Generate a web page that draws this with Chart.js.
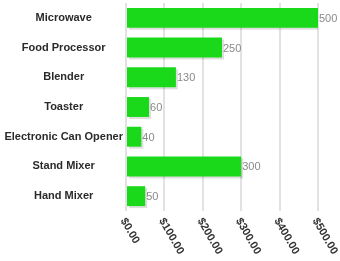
<!DOCTYPE html>
<html>
<head>
<meta charset="utf-8">
<script src="https://cdn.jsdelivr.net/npm/chart.js@4"></script>
<style>
  html, body { margin: 0; padding: 0; background: #fff; }
  #wrap { width: 340px; height: 261px; }
</style>
</head>
<body>
<div id="wrap"><canvas id="canvas"></canvas></div>
<script>
const categories = ['Microwave', 'Food Processor', 'Blender', 'Toaster', 'Electronic Can Opener', 'Stand Mixer', 'Hand Mixer']
const values = [500, 250, 130, 60, 40, 300, 50]
const tickValues = [0, 100, 200, 300, 400, 500]
const tickLabels = ['$0.00', '$100.00', '$200.00', '$300.00', '$400.00', '$500.00']

const font = '"Liberation Sans", Arial, sans-serif'

// bar shadow + value labels at bar ends
const barExtras = {
    id: 'barExtras',
    beforeDatasetsDraw(chart) {
        const ctx = chart.ctx
        ctx.save()
        ctx.shadowColor = 'rgba(0,0,0,0.13)'
        ctx.shadowOffsetX = 2
        ctx.shadowOffsetY = 2
        ctx.shadowBlur = 0
    },
    afterDatasetsDraw(chart) {
        const ctx = chart.ctx
        ctx.restore()
        const meta = chart.getDatasetMeta(0)
        ctx.save()
        ctx.font = '11px ' + font
        ctx.fillStyle = '#8a8a8a'
        ctx.textAlign = 'left'
        ctx.textBaseline = 'middle'
        meta.data.forEach((bar, i) => {
            ctx.fillText(values[i], bar.x + 1, bar.y + 1)
        })
        ctx.restore()
    }
}

// x tick labels rotated clockwise, hanging below the axis
const xLabels = {
    id: 'xLabels',
    afterDraw(chart) {
        const ctx = chart.ctx
        const xs = chart.scales.x
        const top = chart.chartArea.bottom + 8
        ctx.save()
        ctx.font = 'bold 11px ' + font
        ctx.fillStyle = '#333'
        ctx.textAlign = 'left'
        ctx.textBaseline = 'middle'
        tickValues.forEach((v, i) => {
            const px = xs.getPixelForValue(v)
            ctx.save()
            ctx.translate(px - 3, top)
            ctx.rotate(60 * Math.PI / 180)
            ctx.fillText(tickLabels[i], 0, 0)
            ctx.restore()
        })
        ctx.restore()
    }
}

const data = {
    labels: categories,
    datasets: [
        {
            data: values,
            backgroundColor: '#1ad91a',
            borderWidth: 0,
            barPercentage: 0.67,
            categoryPercentage: 1,
        }
    ]
}

const config = {
    type: 'bar',
    data: data,
    plugins: [barExtras, xLabels],
    options: {
        indexAxis: 'y',
        responsive: true,
        maintainAspectRatio: false,
        animation: false,
        layout: { padding: { top: 3, right: 22, bottom: 50, left: 0 } },
        plugins: {
            legend: { display: false },
            tooltip: { enabled: false }
        },
        scales: {
            x: {
                min: 0,
                max: 500,
                afterBuildTicks(scale) {
                    scale.ticks = tickValues.map(v => ({ value: v }))
                },
                ticks: { display: false },
                grid: { color: '#e2e2e2', lineWidth: 2, drawTicks: false },
                border: { display: false }
            },
            y: {
                afterFit(scale) {
                    scale.width = 126
                    scale.paddingTop = 0
                    scale.paddingBottom = 0
                },
                ticks: {
                    crossAlign: 'center',
                    padding: 3,
                    color: '#2a2a2a',
                    font: { family: font, size: 11, weight: 'bold' }
                },
                grid: { display: false, drawTicks: false },
                border: { display: false }
            }
        }
    }
}
const canvas = document.getElementById('canvas')
const chart = new Chart(canvas, config)
</script>
</body>
</html>
